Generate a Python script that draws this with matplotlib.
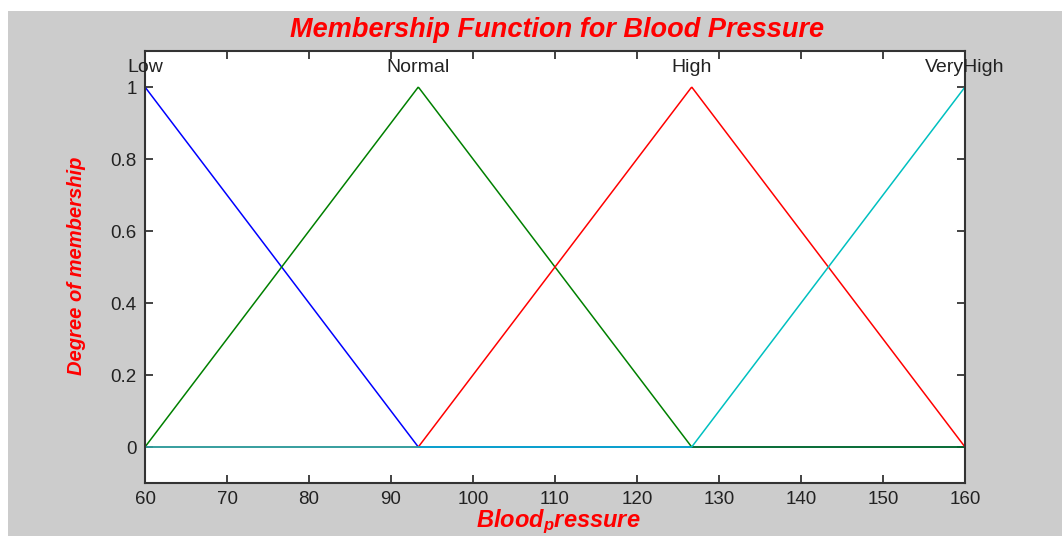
import numpy as np
import matplotlib
matplotlib.use("Agg")
import matplotlib.pyplot as plt
from matplotlib.patches import Rectangle

# membership functions (trimf parameters)
names = ["Low", "Normal", "High", "VeryHigh"]
params = [
    [26.67, 60.0, 93.33],
    [60.0, 93.33, 126.67],
    [93.33, 126.67, 160.0],
    [126.67, 160.0, 193.33],
]
colors = ["#0000ff", "#008000", "#ff0000", "#00c0c0"]

x_range = [60, 160]
x_ticks = [60, 70, 80, 90, 100, 110, 120, 130, 140, 150, 160]
y_ticks = [0, 0.2, 0.4, 0.6, 0.8, 1]
y_ticklabels = ["0", "0.2", "0.4", "0.6", "0.8", "1"]

plt.rcParams["font.family"] = ["Liberation Sans", "DejaVu Sans"]
plt.rcParams["mathtext.fontset"] = "custom"
plt.rcParams["mathtext.it"] = "Liberation Sans:bold:italic"
plt.rcParams["mathtext.rm"] = "Liberation Sans:bold:italic"

fig = plt.figure(figsize=(10.62, 5.36), dpi=100, facecolor="white")
# grey window background
fig.patches.append(Rectangle((8 / 1062, 0), 1 - 8 / 1062, 1 - 11 / 536,
                             transform=fig.transFigure, facecolor="#cccccc",
                             edgecolor="none", zorder=-1))

ax = fig.add_axes([145 / 1062, 1 - 483 / 536, 820 / 1062, 432 / 536])
ax.set_facecolor("white")

xs = np.linspace(x_range[0], x_range[1], 1001)
for name, p, c in zip(names, params, colors):
    a, b, cc = p
    y = np.maximum(np.minimum((xs - a) / (b - a), (cc - xs) / (cc - b)), 0)
    ax.plot(xs, y, color=c, lw=1.1)
    ax.text(b, 1.03, name, ha="center", va="bottom", fontsize=14, color="#222222")

ax.set_xlim(x_range)
ax.set_ylim(-0.1, 1.1)
ax.set_xticks(x_ticks)
ax.set_yticks(y_ticks)
ax.set_yticklabels(y_ticklabels)
ax.tick_params(direction="in", top=True, right=True, length=6, width=1.2,
               labelsize=13.5, colors="#222222", pad=6)
for s in ax.spines.values():
    s.set_linewidth(1.5)
    s.set_color("#333333")

fig.text(557 / 1062, 1 - 30 / 536, "Membership Function for Blood Pressure",
         ha="center", va="center", color="red", fontsize=19.5,
         fontweight="bold", fontstyle="italic")
fig.text(558 / 1062, 1 - 527 / 536, r"Blood$_\mathrm{p}$ressure",
         ha="center", va="baseline", color="red", fontsize=17,
         fontweight="bold", fontstyle="italic")
fig.text(76 / 1062, 1 - 266 / 536, "Degree of membership", rotation=90,
         ha="center", va="center", color="red", fontsize=14.5,
         fontweight="bold", fontstyle="italic")

fig.savefig("out.png", dpi=100, facecolor=fig.get_facecolor())
